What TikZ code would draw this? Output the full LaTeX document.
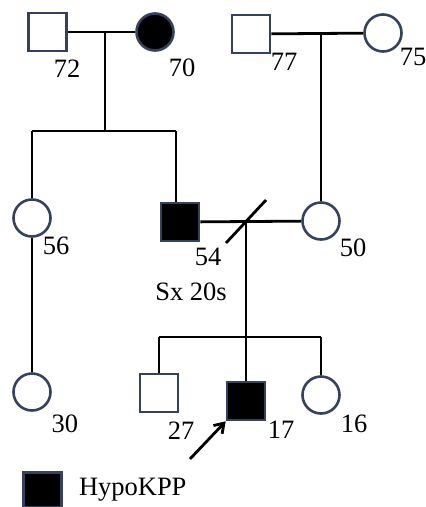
\documentclass[tikz,border=0pt]{standalone}
\usepackage{fontspec}
\setmainfont{Liberation Serif}
\usetikzlibrary{positioning,arrows.meta}

\definecolor{symb}{RGB}{52,66,96}

\tikzset{
    male/.style={draw=symb,rectangle,minimum size=38pt,inner sep=0pt,line width=2.6pt},
    female/.style={draw=symb,circle,minimum size=37pt,inner sep=0pt,line width=2.6pt},
    affected/.style={fill=black},
    age/.style={font=\fontsize{26.5}{26.5}\selectfont,inner sep=0pt},
    link/.style={line width=2.8pt}
}

\begin{document}
\begin{tikzpicture}[x=1pt,y=-1pt]
        \useasboundingbox (0,0) rectangle (426,507);
        % grandparents
        \node[male] (gf1) at (47.5,32) {};
        \node[female,affected] (gm1) at (155,32) {};
        \node[male] (gf2) at (251,34) {};
        \node[female] (gm2) at (383,33) {};
        % parents and aunt
        \node[female] (aunt) at (32,218) {};
        \node[male,affected] (dad) at (180,222) {};
        \node[female] (mum) at (321,221) {};
        % children
        \node[female] (cousin) at (32,392) {};
        \node[male] (bro) at (159,393) {};
        \node[male,affected] (proband) at (246,401) {};
        \node[female] (sis) at (321,395) {};

        % ages
        \node[age] (a72) at (67,69) {72};
        \node[age] (a70) at (182,68) {70};
        \node[age] (a77) at (284,62) {77};
        \node[age] (a75) at (413,57) {75};
        \node[age] (a56) at (56,246) {56};
        \node[age] (a54) at (208,257) {54};
        \node[age] (a50) at (353,248) {50};
        \node[age] (sx) at (191,292) {Sx 20s};
        \node[age] (a30) at (65,424) {30};
        \node[age] (a27) at (181,431) {27};
        \node[age] (a17) at (281,430) {17};
        \node[age] (a16) at (354,424) {16};

        % junction points
        \coordinate (m1) at (105,32);
        \coordinate (m2) at (321,33);
        \coordinate (sib1) at (105,131);
        \coordinate (sib1l) at (32,131);
        \coordinate (sib1r) at (176,131);
        \coordinate (m3) at (246,221);
        \coordinate (sib2) at (246,337);
        \coordinate (sib2l) at (159,337);
        \coordinate (sib2r) at (321,337);
        \coordinate (cut1) at (226,243);
        \coordinate (cut2) at (266,200);

        \draw[link] (gf1) -- (gm1);
        \draw[link] (gf2) -- (gm2);
        \draw[link] (m1) -- (sib1);
        \draw[link] (sib1l) -- (sib1r);
        \draw[link] (sib1l) -- (aunt);
        \draw[link] (sib1r) -- (dad.north -| sib1r);
        \draw[link] (m2) -- (mum);
        \draw[link] (dad) -- (mum);
        \draw[link] (cut1) -- (cut2);
        \draw[link] (m3) -- (sib2);
        \draw[link] (sib2l) -- (sib2r);
        \draw[link] (sib2l) -- (bro);
        \draw[link] (sib2) -- (proband);
        \draw[link] (sib2r) -- (sis);
        \draw[link] (aunt) -- (cousin);

        % proband arrow
        \coordinate (arr) at (190,459);
        \draw[link,-{Straight Barb[length=9pt,width=12pt]}] (arr) -- (proband.south west);

        % legend
        \node[male,affected,minimum height=35pt] (key) at (42.5,490) {};
        \node[age,right=16pt of key] (keytext) {HypoKPP};
    \end{tikzpicture}
\end{document}
